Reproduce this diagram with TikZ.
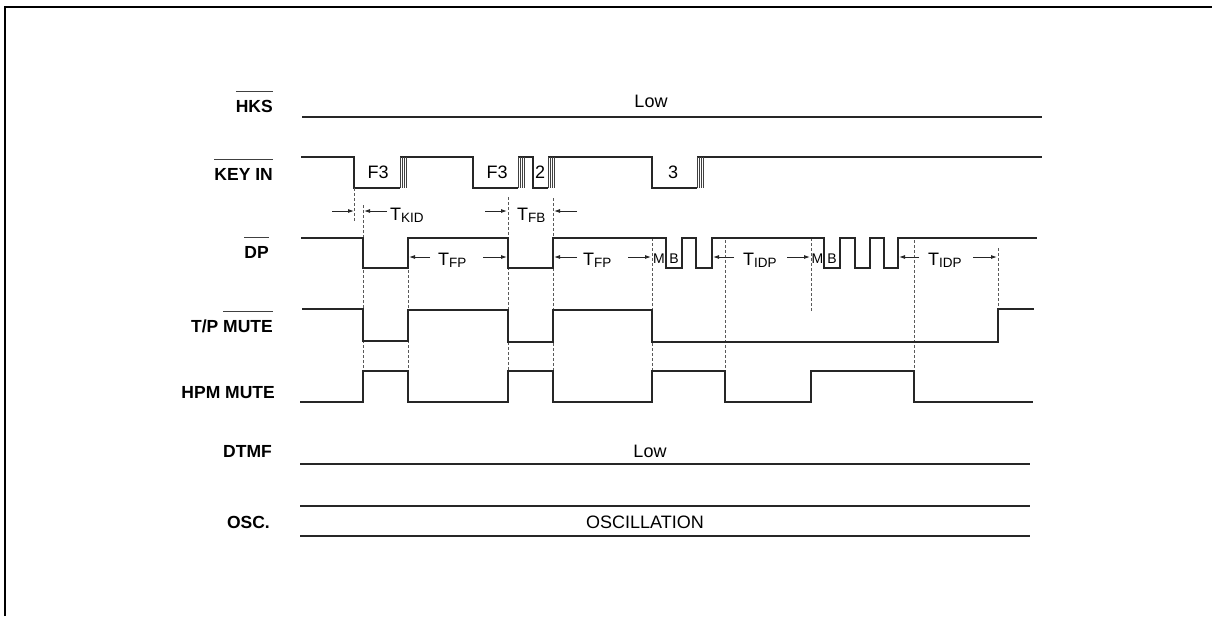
\documentclass[tikz,border=0pt]{standalone}
\usepackage{fontspec}
\setmainfont{Liberation Sans}
\usetikzlibrary{arrows.meta}
\newcommand\olbar[1]{\setbox0=\hbox{#1}\rlap{\color{black!75}\rule[\dimexpr\ht0+8pt\relax]{\wd0}{0.9pt}}\box0}
\newcommand\tsub[2]{#1\raisebox{-2pt}{\fontsize{13.5}{14}\selectfont #2}}
\begin{document}
\begin{tikzpicture}[x=1pt,y=-1pt,
  sig/.style={line width=1.15pt,black!85},
  dsh/.style={dash pattern=on 3pt off 2pt,black!65,line width=0.8pt},
  lbl/.style={anchor=base east,inner sep=0pt,font=\fontsize{17.5}{20}\selectfont\bfseries},
  txt/.style={anchor=base,inner sep=0pt,font=\fontsize{18}{20}\selectfont},
  ttxt/.style={anchor=base west,inner sep=0pt,font=\fontsize{18}{20}\selectfont},
  mb/.style={anchor=base,inner sep=0pt,font=\fontsize{14}{16}\selectfont},
  tarr/.style={line width=0.9pt,black!85,-{Latex[length=6pt,width=4pt]}}]
\useasboundingbox (0,0) rectangle (1212,616);
% frame
\draw[line width=2pt] (5,616) -- (5,6.5) -- (1212,6.5);
% labels
\node[lbl] (lhks) at (273,112) {\olbar{HKS}};
\node[lbl] (lkey) at (273,180) {\olbar{KEY IN}};
\node[lbl] (ldp) at (269,258) {\olbar{DP}};
\node[lbl] (ltp) at (273,332) {T/P \olbar{MUTE}};
\node[lbl] (lhpm) at (275,398) {HPM MUTE};
\node[lbl] (ldtmf) at (272,457) {DTMF};
\node[lbl] (losc) at (270,528) {OSC.};
% HKS
\draw[sig] (302,117) -- (1042,117);
\node[txt] (low1) at (651,107) {Low};
% KEY IN
\draw[sig] (301,157) -- (354,157) -- (354,188) -- (400,188);
\draw[sig] (400,157) -- (473,157) -- (473,188) -- (518,188);
\draw[sig] (518,157) -- (533,157) -- (533,188) -- (548,188);
\draw[sig] (548,157) -- (652,157) -- (652,188) -- (697,188);
\draw[sig] (697,157) -- (1042,157);
\foreach \x in {400,518,548,697}{
  \foreach \i in {0,...,3}{\draw[line width=0.8pt,black!75] (\x+\i*2.2,157) -- (\x+\i*2.2,188);}
}
\node[txt] (f3a) at (378,178) {F3};
\node[txt] (f3b) at (497,178) {F3};
\node[txt] (k2) at (540,178) {2};
\node[txt] (k3) at (673,178) {3};
% dashed guides
\draw[dsh] (354,188) -- (354,221);
\draw[dsh] (363,205) -- (363,371);
\draw[dsh] (408,240) -- (408,371);
\draw[dsh] (508,197) -- (508,371);
\draw[dsh] (553,198) -- (553,371);
\draw[dsh] (652,238) -- (652,371);
\draw[dsh] (725,240) -- (725,371);
\draw[dsh] (811,238) -- (811,312);
\draw[dsh] (914,240) -- (914,371);
\draw[dsh] (998,248) -- (998,309);
% DP
\draw[sig] (301,238) -- (363,238) -- (363,268) -- (408,268) -- (408,238) -- (508,238) -- (508,268) -- (553,268) -- (553,238)
  -- (666,238) -- (666,268) -- (682,268) -- (682,238) -- (696,238) -- (696,268) -- (712,268) -- (712,238)
  -- (824,238) -- (824,268) -- (840,268) -- (840,238) -- (855,238) -- (855,268) -- (870,268) -- (870,238)
  -- (884,238) -- (884,268) -- (898,268) -- (898,238) -- (1037,238);
% timing arrows
\coordinate (a1) at (332,211); \coordinate (a1e) at (354,211);
\draw[tarr] (a1) -- (a1e);
\coordinate (a2) at (387,211); \coordinate (a2e) at (364,211);
\draw[tarr] (a2) -- (a2e);
\node[ttxt] (tkid) at (390,220) {\tsub{T}{KID}};
\coordinate (a3) at (485,211); \coordinate (a3e) at (507,211);
\draw[tarr] (a3) -- (a3e);
\node[ttxt] (tfb) at (517,220) {\tsub{T}{FB}};
\coordinate (a4) at (577,211); \coordinate (a4e) at (554,211);
\draw[tarr] (a4) -- (a4e);
% T_FP 1
\coordinate (b1) at (430,257); \coordinate (b1e) at (409,257);
\draw[tarr] (b1) -- (b1e);
\node[ttxt] (tfp1) at (438,265) {\tsub{T}{FP}};
\coordinate (b2) at (483,257); \coordinate (b2e) at (507,257);
\draw[tarr] (b2) -- (b2e);
% T_FP 2
\coordinate (b3) at (577,257); \coordinate (b3e) at (554,257);
\draw[tarr] (b3) -- (b3e);
\node[ttxt] (tfp2) at (583,265) {\tsub{T}{FP}};
\coordinate (b4) at (628,257); \coordinate (b4e) at (651,257);
\draw[tarr] (b4) -- (b4e);
% T_IDP 1
\coordinate (c1) at (734,257); \coordinate (c1e) at (713,257);
\draw[tarr] (c1) -- (c1e);
\node[ttxt] (tidp1) at (743,265) {\tsub{T}{IDP}};
\coordinate (c2) at (787,257); \coordinate (c2e) at (810,257);
\draw[tarr] (c2) -- (c2e);
% T_IDP 2
\coordinate (c3) at (919,257); \coordinate (c3e) at (899,257);
\draw[tarr] (c3) -- (c3e);
\node[ttxt] (tidp2) at (928,265) {\tsub{T}{IDP}};
\coordinate (c4) at (973,257); \coordinate (c4e) at (997,257);
\draw[tarr] (c4) -- (c4e);
% M B
\node[mb] (m1) at (659,263) {M};
\node[mb] (b1n) at (674,263) {B};
\node[mb] (m2) at (817.5,263) {M};
\node[mb] (b2n) at (832,263) {B};
% T/P MUTE
\draw[sig] (302,309) -- (363,309) -- (363,341) -- (408,341) -- (408,310) -- (508,310) -- (508,342) -- (553,342) -- (553,310)
  -- (652,310) -- (652,342) -- (998,342) -- (998,309) -- (1034,309);
% HPM MUTE
\draw[sig] (300,402) -- (363,402) -- (363,371) -- (408,371) -- (408,402) -- (508,402) -- (508,371) -- (553,371) -- (553,402)
  -- (652,402) -- (652,371) -- (725,371) -- (725,402) -- (811,402) -- (811,371) -- (914,371) -- (914,402) -- (1033,402);
% DTMF
\draw[sig] (300,464) -- (1030,464);
\node[txt] (low2) at (650,457) {Low};
% OSC
\draw[sig] (300,506) -- (1030,506);
\draw[sig] (300,536) -- (1030,536);
\node[txt] (oscl) at (645,528) {OSCILLATION};
\end{tikzpicture}
\end{document}
